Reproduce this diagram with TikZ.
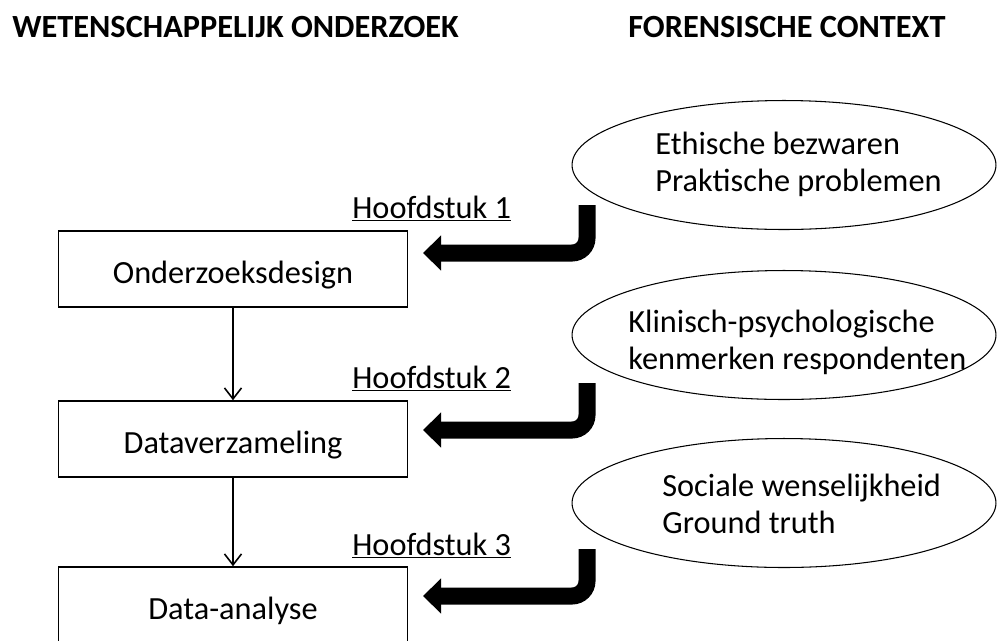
\documentclass[tikz,border=0pt]{standalone}
\usepackage{fontspec}
\setmainfont{Carlito}
\usetikzlibrary{arrows.meta,shapes.geometric}

\begin{document}
\begin{tikzpicture}[x=0.02cm,y=-0.02cm,
	font=\fontsize{18.4}{21.2}\selectfont,
	box/.style={draw,line width=0.9pt,minimum width=6.98cm,minimum height=1.52cm,inner sep=0,text height=0.56cm,text depth=0cm},
	oval/.style={draw,ellipse,line width=0.6pt,minimum width=8.48cm,minimum height=2.58cm,inner sep=0},
	ovaltext/.style={anchor=west,align=left,inner sep=0},
	chapter/.style={anchor=base west,inner sep=0},
	heading/.style={anchor=base west,inner sep=0,font=\fontsize{18.4}{21.2}\selectfont\bfseries},
	flow/.style={line width=0.9pt,-{Straight Barb[length=0.22cm,width=0.34cm]}},
	feed/.style={line width=0.34cm,rounded corners=0.3cm,-{Triangle[length=0.36cm,width=0.68cm]}}]
	\useasboundingbox (0,0) rectangle (997,640);
	\clip (0,0) rectangle (997,640);
	\node[heading] (h1) at (12,37) {WETENSCHAPPELIJK ONDERZOEK};
	\node[heading] (h2) at (628,37) {FORENSISCHE CONTEXT};
	\node[box] (b1) at (233,269) {Onderzoeksdesign};
	\node[box] (b2) at (233,439) {Dataverzameling};
	\node[box] (b3) at (233,605) {Data-analyse};
	\node[oval] (e1) at (784,165) {};
	\node[oval] (e2) at (784,335) {};
	\node[oval] (e3) at (784,503) {};
	\node[ovaltext] (t1) at (655,164) {Ethische bezwaren\\Praktische problemen};
	\node[ovaltext] (t2) at (628,342) {Klinisch-psychologische\\kenmerken respondenten};
	\node[ovaltext] (t3) at (662,504) {Sociale wenselijkheid\\Ground truth};
	\node[chapter] (c1) at (352,218) {\underline{Hoofdstuk 1}};
	\node[chapter] (c2) at (352,388) {\underline{Hoofdstuk 2}};
	\node[chapter] (c3) at (352,555) {\underline{Hoofdstuk 3}};
	\coordinate (s1) at (587,205);
	\coordinate (s2) at (587,383);
	\coordinate (s3) at (587,549);
	\coordinate (a1) at (423,253);
	\coordinate (a2) at (423,430);
	\coordinate (a3) at (423,596);
	\draw[flow] (b1) -- (b2);
	\draw[flow] (b2) -- (b3);
	\draw[feed] (s1) |- (a1);
	\draw[feed] (s2) |- (a2);
	\draw[feed] (s3) |- (a3);
\end{tikzpicture}
\end{document}
